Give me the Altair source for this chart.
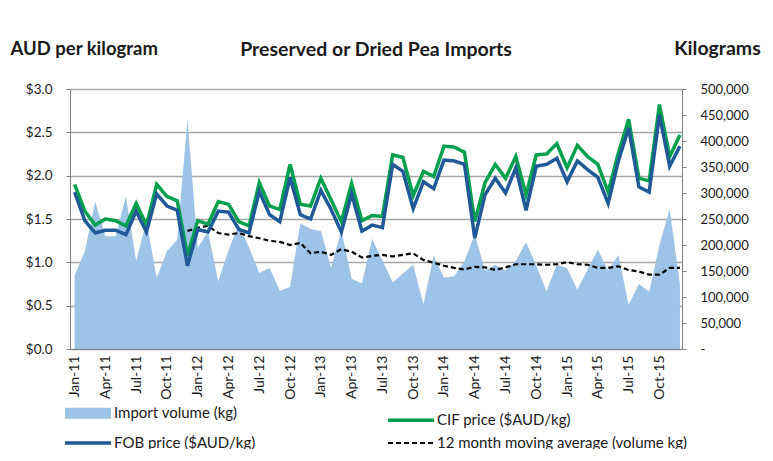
import json
import altair as alt
import pandas as pd

months = [f"{m}-{y}" for y in ["11", "12", "13", "14", "15"]
          for m in ["Jan", "Feb", "Mar", "Apr", "May", "Jun",
                    "Jul", "Aug", "Sep", "Oct", "Nov", "Dec"]]

tick_labels = ["Jan-11", "Apr-11", "Jul-11", "Oct-11", "Jan-12", "Apr-12", "Jul-12",
               "Oct-12", "Jan-13", "Apr-13", "Jul-13", "Oct-13", "Jan-14", "Apr-14",
               "Jul-14", "Oct-14", "Jan-15", "Apr-15", "Jul-15", "Oct-15"]

import_volume = [142000, 188000, 283000, 217000, 217000, 294000, 169000, 246000, 137000, 188000, 210000, 443000,
                 194000, 226000, 130000, 190000, 240000, 195000, 146000, 156000, 112000, 119000, 242000, 231000,
                 227000, 156000, 229000, 135000, 126000, 212000, 170000, 128000, 145000, 162000, 86000, 180000,
                 137000, 140000, 169000, 220000, 151000, 162000, 151000, 169000, 206000, 160000, 111000, 162000,
                 156000, 114000, 153000, 191000, 151000, 181000, 85000, 125000, 110000, 200000, 269000, 124000]

cif_price = [1.90, 1.59, 1.43, 1.50, 1.48, 1.42, 1.68, 1.43, 1.90, 1.76, 1.71, 1.08,
             1.48, 1.44, 1.70, 1.67, 1.47, 1.42, 1.92, 1.65, 1.61, 2.13, 1.67, 1.65,
             1.97, 1.72, 1.47, 1.91, 1.48, 1.54, 1.53, 2.24, 2.21, 1.77, 2.05, 1.99,
             2.34, 2.33, 2.27, 1.47, 1.92, 2.13, 1.97, 2.22, 1.78, 2.24, 2.25, 2.37,
             2.09, 2.35, 2.22, 2.13, 1.81, 2.26, 2.65, 1.97, 1.94, 2.82, 2.22, 2.47]

fob_price = [1.81, 1.48, 1.34, 1.37, 1.37, 1.32, 1.59, 1.35, 1.79, 1.65, 1.60, 0.96,
             1.38, 1.35, 1.59, 1.58, 1.38, 1.34, 1.82, 1.55, 1.47, 1.98, 1.55, 1.50,
             1.83, 1.61, 1.35, 1.79, 1.36, 1.43, 1.40, 2.13, 2.05, 1.62, 1.93, 1.85,
             2.18, 2.17, 2.13, 1.28, 1.78, 1.97, 1.80, 2.09, 1.60, 2.11, 2.13, 2.20,
             1.93, 2.17, 2.07, 1.98, 1.68, 2.17, 2.55, 1.87, 1.81, 2.70, 2.11, 2.34]

# 12 month moving average, available from Dec-11 onwards
moving_avg = [227000,
              233000, 237000, 223000, 220000, 223000, 217000, 213000, 208000, 206000, 200000, 204000, 184000,
              187000, 181000, 192000, 187000, 176000, 179000, 181000, 178000, 181000, 184000, 171000, 166000,
              160000, 156000, 153000, 158000, 157000, 152000, 157000, 163000, 163000, 163000, 162000, 163000,
              167000, 163000, 162000, 156000, 156000, 159000, 152000, 149000, 143000, 143000, 156000, 156000]

series_names = ["Import volume (kg)", "CIF price ($AUD/kg)", "FOB price ($AUD/kg)",
                "12 month moving average (volume kg)"]
series_colors = ["#9DC3E6", "#00A04E", "#1F5A96", "#000000"]
series_dash = [[1, 0], [1, 0], [1, 0], [5, 3]]
series_width = [11, 3.5, 3.5, 2.2]

FONT = "Lato"
TEXT = "#1a1a1a"
GRID = "#A6A6A6"

n = len(months)
idx = list(range(n))
vol_df = pd.DataFrame({"i": idx, "month": months, "volume": import_volume})
ma_df = pd.DataFrame({"i": idx[n - len(moving_avg):], "value": moving_avg,
                      "series": series_names[3]})
price_df = pd.DataFrame({"i": idx + idx, "value": cif_price + fob_price,
                         "series": [series_names[1]] * n + [series_names[2]] * n})

x_enc = alt.X("i:Q", title=None,
              scale=alt.Scale(domain=[-0.45, n - 0.8], nice=False, zero=False),
              axis=alt.Axis(values=list(range(0, n, 3)),
                            labelExpr=f"{json.dumps(tick_labels)}[round(datum.value / 3)]",
                            labelAngle=270, labelAlign="right", labelBaseline="middle",
                            labelPadding=6, ticks=False, grid=False,
                            labelFont=FONT, labelFontSize=14, labelColor=TEXT,
                            domainColor="#808080", domainWidth=1.2))

vol_scale = alt.Scale(domain=[0, 500000], nice=False, zero=True)
vol_axis = alt.Axis(orient="right", values=list(range(0, 500001, 50000)),
                    labelExpr="datum.value == 0 ? '-' : format(datum.value, ',')",
                    grid=False, tickSize=4, labelPadding=14, labelAlign="left",
                    labelFont=FONT, labelFontSize=13, labelColor=TEXT,
                    domainColor="#808080", tickColor="#808080",
                    title="Kilograms", titleAngle=0, titleX=35, titleY=-41,
                    titleAlign="center", titleBaseline="middle",
                    titleFont=FONT, titleFontSize=19.5, titleFontWeight="bold", titleColor=TEXT)

price_scale = alt.Scale(domain=[0, 3], nice=False, zero=True)
price_axis = alt.Axis(orient="left", values=[0, 0.5, 1, 1.5, 2, 2.5, 3], format="$.1f",
                      grid=True, gridColor=GRID, gridWidth=1.4,
                      tickSize=4, labelPadding=14,
                      labelFont=FONT, labelFontSize=13.5, labelColor=TEXT,
                      domainColor="#808080", tickColor="#808080",
                      title="AUD per kilogram", titleAngle=0, titleX=-60, titleY=-41,
                      titleAlign="left", titleBaseline="middle",
                      titleFont=FONT, titleFontSize=18.5, titleFontWeight="bold", titleColor=TEXT)

# long horizontal legend glyph (custom path), so the legend rows stay compact
legend = alt.Legend(title=None, orient="none", legendX=-12.5, legendY=316.5, columns=2,
                    direction="horizontal",
                    columnPadding=125, rowPadding=0, symbolType="M0,0H23", symbolSize=16,
                    labelFont=FONT, labelFontSize=15, labelColor=TEXT, labelLimit=400,
                    labelOffset=41.5)

color_enc = alt.Color("series:N", scale=alt.Scale(domain=series_names, range=series_colors),
                      legend=legend)
dash_enc = alt.StrokeDash("series:N", scale=alt.Scale(domain=series_names, range=series_dash),
                          legend=legend)
width_enc = alt.StrokeWidth("series:N",
                            scale=alt.Scale(type="ordinal", domain=series_names, range=series_width),
                            legend=legend)

area = alt.Chart(vol_df).mark_area(color=series_colors[0], opacity=1).encode(
    x=x_enc,
    y=alt.Y("volume:Q", scale=vol_scale, axis=vol_axis),
)

ma_line = alt.Chart(ma_df).mark_line(strokeCap="butt").encode(
    x=x_enc,
    y=alt.Y("value:Q", scale=vol_scale, axis=vol_axis),
    color=color_enc, strokeDash=dash_enc, strokeWidth=width_enc,
)

price_lines = alt.Chart(price_df).mark_line().encode(
    x=x_enc,
    y=alt.Y("value:Q", scale=price_scale, axis=price_axis),
    color=color_enc, strokeDash=dash_enc, strokeWidth=width_enc,
    detail="series:N",
)

chart = alt.layer(alt.layer(area, ma_line), price_lines).resolve_scale(
    y="independent"
).properties(
    width=612, height=260,
    autosize=alt.AutoSizeParams(type="none"),
    padding={"left": 62, "top": 81, "right": 83, "bottom": 100},
    title=alt.TitleParams("Preserved or Dried Pea Imports", font=FONT, fontSize=19.5,
                          fontWeight="bold", color=TEXT, anchor="middle", offset=0, dy=22),
).configure_view(stroke="transparent")

chart.save("out.html", embed_options={"renderer": "svg", "actions": False})
